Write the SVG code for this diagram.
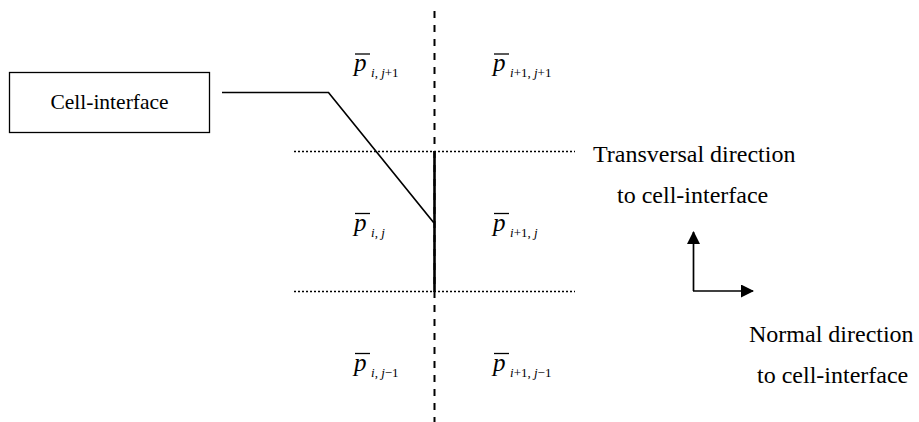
<svg xmlns="http://www.w3.org/2000/svg" width="919" height="422" viewBox="0 0 919 422">
<style>
.lbl{font-size:24px}
.box{font-size:21.5px}
.p{font-size:25px;font-style:italic}
.s{font-size:13px}
.it{font-style:italic}
.bar{stroke:#000;stroke-width:1.3}
</style>
<defs>
<marker id="ah" markerWidth="13" markerHeight="13" refX="12" refY="6.5" orient="auto" markerUnits="userSpaceOnUse">
<path d="M0,0 L13,6.5 L0,13 Z" fill="#000"/>
</marker>
</defs>
<rect width="919" height="422" fill="#fff"/>
<g id="grid">
<line x1="434.5" y1="11" x2="434.5" y2="422" stroke="#000" stroke-width="2" stroke-dasharray="7 7"/>
<line x1="294" y1="151.5" x2="575" y2="151.5" stroke="#000" stroke-width="1.5" stroke-dasharray="2 2"/>
<line x1="294" y1="291.5" x2="575" y2="291.5" stroke="#000" stroke-width="1.5" stroke-dasharray="2 2"/>
<line x1="434.5" y1="151" x2="434.5" y2="292" stroke="#000" stroke-width="2.6"/>
</g>
<g font-family="'Liberation Serif', 'Times New Roman', serif" fill="#000">
<g id="cell-interface">
<rect x="9.5" y="72.5" width="200" height="60" fill="#fff" stroke="#000" stroke-width="1.3"/>
<text class="box" x="109.5" y="109" text-anchor="middle">Cell-interface</text>
</g>
<g id="p-i-jp1">
<line class="bar" x1="355" y1="54" x2="370" y2="54"/>
<text class="p" x="354" y="71">p</text>
<text class="s" x="371" y="77"><tspan class="it">i</tspan>, <tspan class="it">j</tspan>+1</text>
</g>
<g id="p-ip1-jp1">
<line class="bar" x1="494" y1="54" x2="509" y2="54"/>
<text class="p" x="493" y="71">p</text>
<text class="s" x="510" y="77"><tspan class="it">i</tspan>+1, <tspan class="it">j</tspan>+1</text>
</g>
<g id="p-i-j">
<line class="bar" x1="355" y1="213.5" x2="370" y2="213.5"/>
<text class="p" x="354" y="230.5">p</text>
<text class="s" x="371" y="236.5"><tspan class="it">i</tspan>, <tspan class="it">j</tspan></text>
</g>
<g id="p-ip1-j">
<line class="bar" x1="494" y1="213.5" x2="509" y2="213.5"/>
<text class="p" x="493" y="230.5">p</text>
<text class="s" x="510" y="236.5"><tspan class="it">i</tspan>+1, <tspan class="it">j</tspan></text>
</g>
<g id="p-i-jm1">
<line class="bar" x1="355" y1="353.5" x2="370" y2="353.5"/>
<text class="p" x="354" y="370.5">p</text>
<text class="s" x="371" y="376.5"><tspan class="it">i</tspan>, <tspan class="it">j</tspan>−1</text>
</g>
<g id="p-ip1-jm1">
<line class="bar" x1="494" y1="353.5" x2="509" y2="353.5"/>
<text class="p" x="493" y="370.5">p</text>
<text class="s" x="510" y="376.5"><tspan class="it">i</tspan>+1, <tspan class="it">j</tspan>−1</text>
</g>
<g id="transversal-label">
<text class="lbl" x="593" y="162">Transversal direction</text>
<text class="lbl" x="617" y="203">to cell-interface</text>
</g>
<g id="normal-label">
<text class="lbl" x="749" y="342">Normal direction</text>
<text class="lbl" x="757" y="383">to cell-interface</text>
</g>
</g>
<g id="connectors">
<polyline points="222,92.5 328.5,92.5 434,223" fill="none" stroke="#000" stroke-width="1.7"/>
<line x1="693.5" y1="291" x2="693.5" y2="232" stroke="#000" stroke-width="1.7" marker-end="url(#ah)"/>
<line x1="693" y1="291" x2="753" y2="291" stroke="#000" stroke-width="1.7" marker-end="url(#ah)"/>
</g>
</svg>
